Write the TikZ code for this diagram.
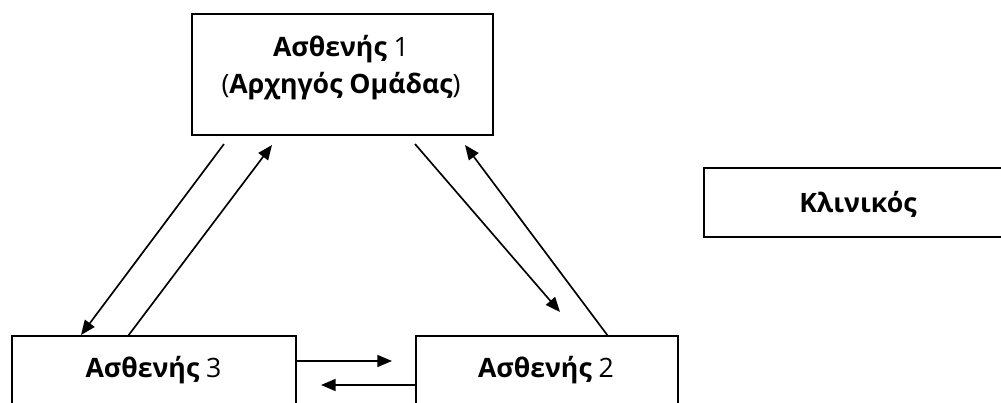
\documentclass[tikz,border=0pt]{standalone}
\usepackage{fontspec}
\setmainfont{Open Sans}
\usetikzlibrary{arrows.meta}
\begin{document}
\begin{tikzpicture}[x=0.75pt,y=-0.75pt,
  box/.style={draw, line width=1.5pt, inner sep=0pt, outer sep=0pt},
  lbl/.style={anchor=base, inner sep=0pt, font=\fontsize{20}{25}\selectfont},
  arr/.style={line width=1.25pt, -{Triangle[length=11pt,width=9pt]}}]
\useasboundingbox (0,0) rectangle (1001,403);
\begin{scope}
\clip (0,0) rectangle (1001,403);
% boxes
\node[box, minimum width=225.75pt, minimum height=90.75pt] (p1) at (342.5,74.5) {};
\node[box, minimum width=231pt, minimum height=51.75pt] (kl) at (858,202.5) {};
\node[box, minimum width=213pt, minimum height=57pt] (p3) at (154,374) {};
\node[box, minimum width=196.5pt, minimum height=57pt] (p2) at (547,374) {};
\end{scope}
% labels
\node[lbl] (t1a) at (341,57) {\textbf{Ασθενής} 1};
\node[lbl] (t1b) at (341,94) {(\textbf{Αρχηγός Ομάδας})};
\node[lbl] (tk) at (858,213) {\textbf{Κλινικός}};
\node[lbl] (t3) at (153.5,377) {\textbf{Ασθενής} 3};
\node[lbl] (t2) at (546,377) {\textbf{Ασθενής} 2};
% connector end points
\coordinate (a1s) at (224,144);  \coordinate (a1e) at (81,335);
\coordinate (a2s) at (128,336);  \coordinate (a2e) at (272,145);
\coordinate (a3s) at (415,144);  \coordinate (a3e) at (560,312);
\coordinate (a4s) at (608,336);  \coordinate (a4e) at (465,145);
\coordinate (a5s) at (p3.east |- 0,361); \coordinate (a5e) at (392,361);
\coordinate (a6s) at (p2.west |- 0,385); \coordinate (a6e) at (321,385);
% connectors
\draw[arr] (a1s) -- (a1e);
\draw[arr] (a2s) -- (a2e);
\draw[arr] (a3s) -- (a3e);
\draw[arr] (a4s) -- (a4e);
\draw[arr] (a5s) -- (a5e);
\draw[arr] (a6s) -- (a6e);
\end{tikzpicture}
\end{document}
